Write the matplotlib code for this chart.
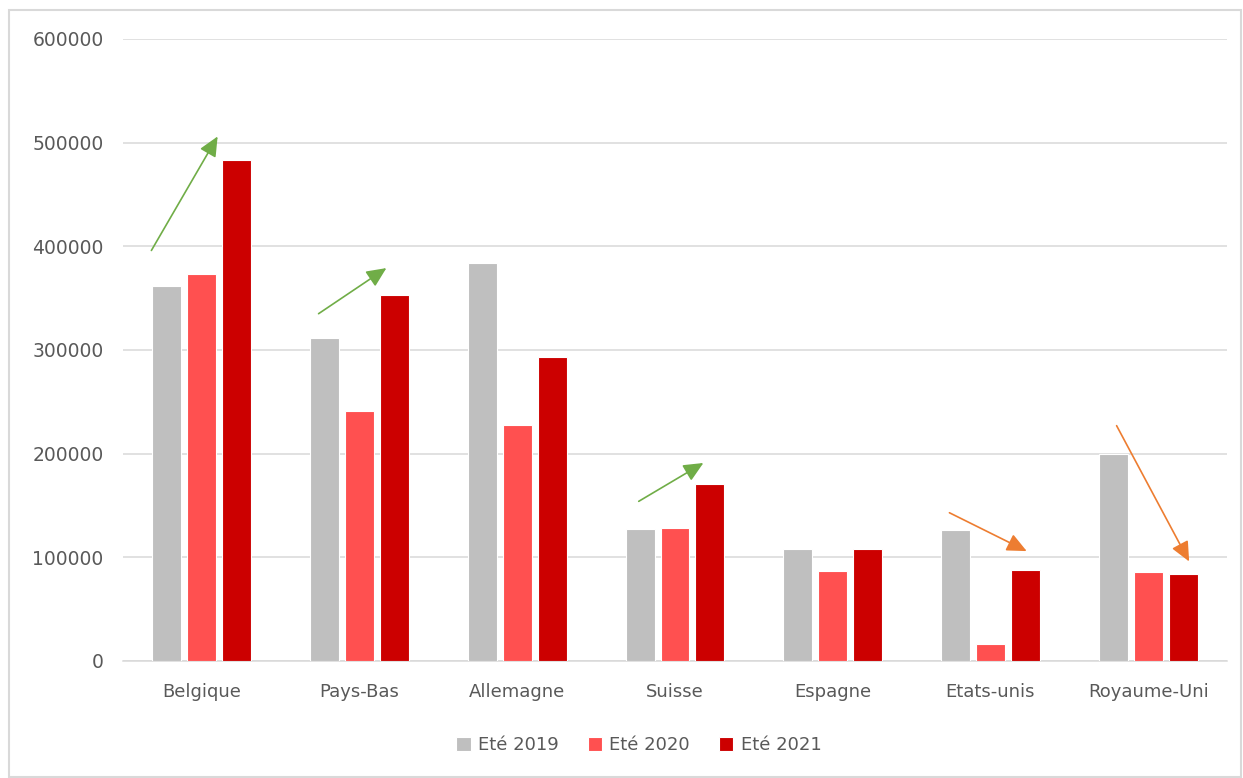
import matplotlib.pyplot as plt
import numpy as np
from matplotlib.patches import Rectangle

pays = ['Belgique', 'Pays-Bas', 'Allemagne', 'Suisse', 'Espagne', 'Etats-unis', 'Royaume-Uni']
ete_2019 = [362000, 312000, 384000, 127000, 108000, 126000, 200000]
ete_2020 = [373000, 241000, 228000, 128000, 87000, 16000, 86000]
ete_2021 = [483000, 353000, 293000, 171000, 108000, 88000, 84000]
series_labels = ['Eté 2019', 'Eté 2020', 'Eté 2021']
series_colors = ['#BFBFBF', '#FF5050', '#CC0000']

# fleches de tendance (x en position de categorie, y en valeur)
fleches_hausse = [((-0.32, 396000), (0.10, 506000)),
                  ((0.74, 335000), (1.17, 379000)),
                  ((2.77, 154000), (3.18, 191000))]
fleches_baisse = [((4.74, 143000), (5.23, 106000)),
                  ((5.80, 227000), (6.26, 96000))]

fig = plt.figure(figsize=(12.43, 7.78), dpi=100)
ax = fig.add_axes([123 / 1243, 0.1504, 1104 / 1243, 0.7995])

x = np.arange(len(pays))
pas = 0.2215
largeur = 0.1835
for k, (vals, lab, col) in enumerate(zip([ete_2019, ete_2020, ete_2021], series_labels, series_colors)):
    ax.bar(x + (k - 1) * pas, vals, largeur, color=col, label=lab,
           edgecolor='white', linewidth=0.8, zorder=3)

ax.set_xlim(-0.5, len(pays) - 0.5)
ax.set_ylim(0, 600000)
ax.set_yticks(np.arange(0, 600001, 100000))
ax.set_yticklabels([f'{v:d}' for v in range(0, 600001, 100000)])
ax.set_xticks(x)
ax.set_xticklabels(pays)
ax.tick_params(axis='both', length=0, labelsize=13, colors='#595959')
ax.tick_params(axis='y', labelsize=13.5, pad=14)
ax.tick_params(axis='x', pad=16)
ax.grid(axis='y', color='#D9D9D9', linewidth=1.1, zorder=0)
for s in ['top', 'right', 'left']:
    ax.spines[s].set_visible(False)
ax.spines['bottom'].set_color('#D9D9D9')
ax.spines['bottom'].set_linewidth(1.1)

style = '-|>,head_length=1.2,head_width=0.55'
for (x0, y0), (x1, y1) in fleches_hausse:
    ax.annotate('', xy=(x1, y1), xytext=(x0, y0),
                arrowprops=dict(arrowstyle=style, color='#70AD47', lw=1.2,
                                shrinkA=0, shrinkB=0), zorder=5)
for (x0, y0), (x1, y1) in fleches_baisse:
    ax.annotate('', xy=(x1, y1), xytext=(x0, y0),
                arrowprops=dict(arrowstyle=style, color='#ED7D31', lw=1.2,
                                shrinkA=0, shrinkB=0), zorder=5)

leg = fig.legend(loc='center', bbox_to_anchor=(0.514, 0.042), ncol=3, frameon=False,
                 fontsize=13, handlelength=0.8, handleheight=0.8, handletextpad=0.4,
                 columnspacing=1.6)
for t in leg.get_texts():
    t.set_color('#595959')

fig.patches.append(Rectangle((9 / 1243, 1 / 778), 1232 / 1243, 767 / 778,
                             transform=fig.transFigure, fill=False,
                             edgecolor='#D9D9D9', linewidth=1.5))

fig.savefig('out.png', dpi=100)
